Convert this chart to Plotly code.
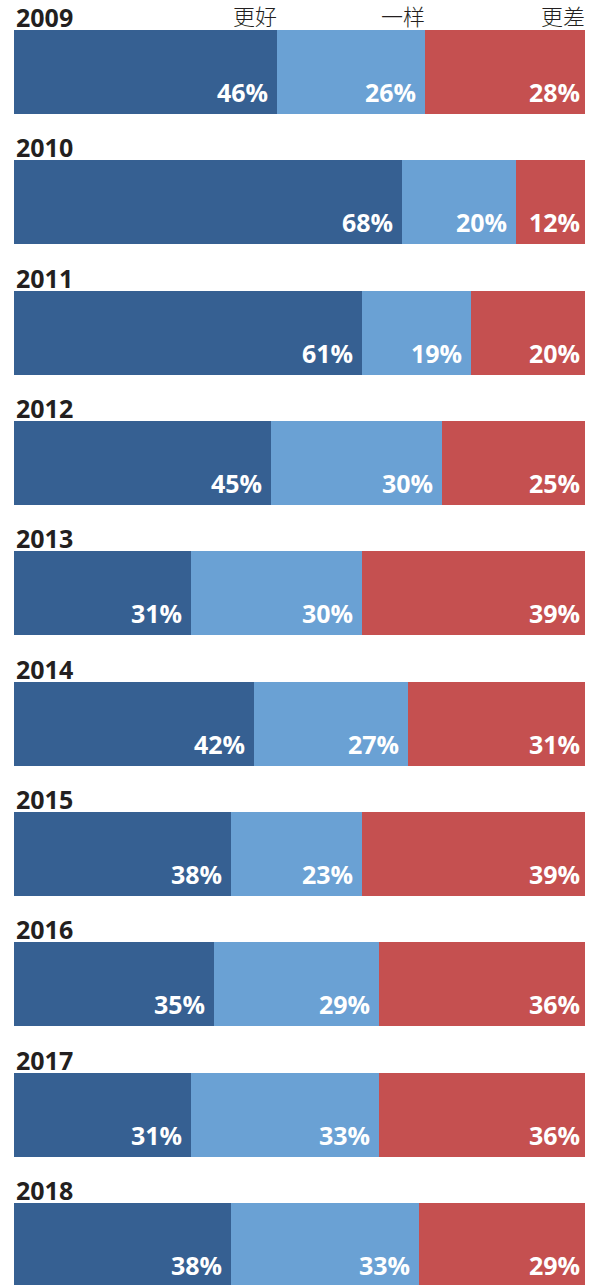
import plotly.graph_objects as go

years = ['2009', '2010', '2011', '2012', '2013', '2014', '2015', '2016', '2017', '2018']
better = [46, 68, 61, 45, 31, 42, 38, 35, 31, 38]
same = [26, 20, 19, 30, 30, 27, 23, 29, 33, 33]
worse = [28, 12, 20, 25, 39, 31, 39, 36, 36, 29]
series_names = ['更好', '一样', '更差']
colors = ['#366092', '#6AA1D4', '#C55050']

W, H = 603, 1285
slot = 130.35         # px per category row
bar_px = 84.0         # bar thickness in px
first_center = 72.0   # px from top to center of first row

series = [better, same, worse]

fig = go.Figure()
for name, vals, col in zip(series_names, series, colors):
    fig.add_trace(go.Bar(
        y=years, x=vals, name=name, orientation='h',
        marker=dict(color=col, line=dict(width=0)),
        width=bar_px / slot, showlegend=False, hoverinfo='skip'))

annotations = []
for i, yr in enumerate(years):
    cum = 0
    for j, vals in enumerate(series):
        cum += vals[i]
        annotations.append(dict(
            x=cum, y=i, xref='x', yref='y', text=f'{vals[i]}%',
            showarrow=False, xanchor='right', yanchor='bottom',
            xshift=-7 if j < 2 else -3, yshift=-bar_px / 2 + 3,
            font=dict(family='Open Sans', size=25, color='white', weight='bold')))
    annotations.append(dict(
        x=0, y=i, xref='paper', yref='y', text=yr, showarrow=False,
        xanchor='left', yanchor='bottom', xshift=0, yshift=bar_px / 2 - 6,
        font=dict(family='Open Sans', size=25, color='#231f20', weight='bold')))

cum = 0
for name, vals in zip(series_names, series):
    cum += vals[0]
    annotations.append(dict(
        x=cum, y=0, xref='x', yref='y', text=name, showarrow=False,
        xanchor='right', yanchor='bottom', xshift=2, yshift=bar_px / 2 - 3,
        font=dict(family='Noto Sans CJK SC', size=22, color='#231f20', weight=300)))

top_val = -first_center / slot
bot_val = top_val + H / slot

fig.update_layout(
    width=W, height=H, barmode='stack', bargap=0,
    margin=dict(l=14, r=18, t=0, b=0),
    paper_bgcolor='white', plot_bgcolor='white',
    xaxis=dict(range=[0, 100], visible=False, fixedrange=True),
    yaxis=dict(range=[bot_val, top_val], visible=False, type='category',
               fixedrange=True),
    annotations=annotations,
)

fig.write_html('out.html', config={'displayModeBar': False},
               post_script="document.body.style.margin='0';")
